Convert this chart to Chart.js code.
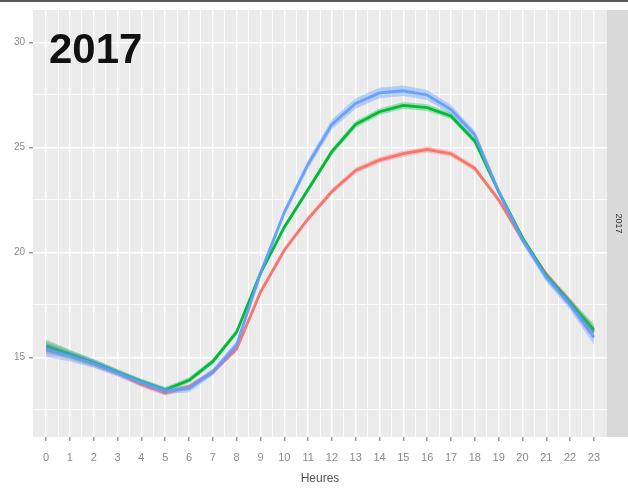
<!DOCTYPE html>
<html>
<head>
<meta charset="utf-8">
<script src="https://cdn.jsdelivr.net/npm/chart.js@4"></script>
<style>
  html, body { margin: 0; padding: 0; background: #fff; }
  #wrap { width: 628px; height: 489px; }
</style>
</head>
<body>
<div id="wrap"><canvas id="chart1" width="628" height="489"></canvas></div>
<script>
(() => {
  // hours of the day
  const hours = [0, 1, 2, 3, 4, 5, 6, 7, 8, 9, 10, 11, 12, 13, 14, 15, 16, 17, 18, 19, 20, 21, 22, 23];
  // mean values
  const blue = [15.35, 15.05, 14.7, 14.25, 13.8, 13.4, 13.5, 14.3, 15.6, 19.0, 21.9, 24.2, 26.1, 27.1, 27.6, 27.7, 27.5, 26.8, 25.6, 22.9, 20.6, 18.8, 17.5, 15.95];
  const green = [15.55, 15.15, 14.75, 14.3, 13.85, 13.45, 13.9, 14.8, 16.2, 19.0, 21.2, 23.0, 24.8, 26.1, 26.7, 27.0, 26.9, 26.5, 25.3, 22.9, 20.7, 18.9, 17.6, 16.3];
  const red = [15.45, 15.1, 14.7, 14.25, 13.7, 13.3, 13.6, 14.3, 15.4, 18.1, 20.1, 21.6, 22.9, 23.9, 24.4, 24.7, 24.9, 24.7, 24.0, 22.5, 20.6, 18.95, 17.65, 16.2];
  // half width of the ribbons
  const blueSe = [0.34, 0.25, 0.2, 0.17, 0.16, 0.16, 0.17, 0.17, 0.17, 0.17, 0.18, 0.2, 0.23, 0.25, 0.25, 0.25, 0.24, 0.22, 0.2, 0.18, 0.18, 0.2, 0.24, 0.34];
  const greenSe = [0.3, 0.21, 0.17, 0.14, 0.13, 0.13, 0.13, 0.13, 0.13, 0.13, 0.13, 0.14, 0.15, 0.16, 0.16, 0.16, 0.16, 0.15, 0.14, 0.13, 0.13, 0.15, 0.19, 0.28];
  const redSe = [0.3, 0.21, 0.17, 0.14, 0.13, 0.13, 0.13, 0.13, 0.13, 0.13, 0.13, 0.13, 0.13, 0.14, 0.14, 0.14, 0.14, 0.14, 0.13, 0.13, 0.13, 0.15, 0.19, 0.28];
  // tick labels
  const yTicks = [15, 20, 25, 30];
  const xTicks = hours;
  const panelLabel = "2017";
  const xTitle = "Heures";

  const pts = (vals, off) => hours.map((h, i) => ({ x: h, y: vals[i] + off[i] }));
  const neg = (arr) => arr.map((v) => -v);
  const zero = hours.map(() => 0);

  const series = [
    { vals: blue, se: blueSe, line: "rgba(97,156,255,0.9)", band: "rgba(97,156,255,0.40)" },
    { vals: green, se: greenSe, line: "#00BA38", band: "rgba(0,186,56,0.35)" },
    { vals: red, se: redSe, line: "#F8766D", band: "rgba(248,118,109,0.35)" },
  ];

  const datasets = [];
  series.forEach((s) => {
    datasets.push({
      data: pts(s.vals, zero),
      borderColor: s.line,
      borderWidth: 2.8,
      pointRadius: 0,
      tension: 0,
      fill: false,
    });
    datasets.push({
      data: pts(s.vals, s.se),
      borderWidth: 0,
      pointRadius: 0,
      tension: 0,
      backgroundColor: s.band,
      fill: "+1",
    });
    datasets.push({
      data: pts(s.vals, neg(s.se)),
      borderWidth: 0,
      pointRadius: 0,
      tension: 0,
      fill: false,
    });
  });

  const panel = {
    id: "panel",
    beforeDraw(chart) {
      const { ctx, chartArea: a } = chart;
      ctx.save();
      ctx.fillStyle = "#ffffff";
      ctx.fillRect(0, 0, chart.width, chart.height);
      ctx.fillStyle = "#5a5a5a";
      ctx.fillRect(0, 0, chart.width, 2);
      ctx.fillStyle = "#ebebeb";
      ctx.fillRect(a.left, a.top, a.right - a.left, a.bottom - a.top);
      ctx.fillStyle = "#d9d9d9";
      ctx.fillRect(a.right, a.top, chart.width - a.right, a.bottom - a.top);
      ctx.translate(a.right + 11, (a.top + a.bottom) / 2);
      ctx.rotate(Math.PI / 2);
      ctx.fillStyle = "#333";
      ctx.font = "9px 'Liberation Sans'";
      ctx.textAlign = "center";
      ctx.textBaseline = "middle";
      ctx.fillText(panelLabel, 0, 0);
      ctx.restore();
    },
    afterDraw(chart) {
      const { ctx, chartArea: a } = chart;
      ctx.save();
      ctx.fillStyle = "#111";
      ctx.font = "bold 42px 'Liberation Sans'";
      ctx.textAlign = "left";
      ctx.textBaseline = "alphabetic";
      ctx.fillText(panelLabel, a.left + 16, 63);
      ctx.restore();
    },
  };

  const config = {
    type: "line",
    data: { datasets: datasets },
    options: {
      responsive: false,
      animation: false,
      layout: { padding: { top: 5, right: 21, left: 0, bottom: 0 } },
      plugins: { legend: { display: false }, tooltip: { enabled: false } },
      scales: {
        x: {
          type: "linear",
          min: -0.55,
          max: 23.55,
          afterBuildTicks: (scale) => {
            const t = [];
            for (let v = 0; v <= 23; v += 0.5) t.push({ value: v });
            scale.ticks = t;
          },
          afterFit: (scale) => { scale.height = 52; },
          ticks: {
            autoSkip: false,
            maxRotation: 0,
            padding: 10,
            color: "#8a8a8a",
            font: { family: "'Liberation Sans'", size: 11 },
            callback: (v) => (xTicks.includes(v) ? String(v) : ""),
          },
          grid: {
            color: "#ffffff",
            lineWidth: (c) => (c.tick && Number.isInteger(c.tick.value) ? 1.5 : 0.9),
            tickLength: 4,
            tickColor: (c) => (c.tick && Number.isInteger(c.tick.value) ? "#999" : "rgba(0,0,0,0)"),
          },
          border: { display: false },
          title: {
            display: true,
            text: xTitle,
            color: "#555",
            font: { family: "'Liberation Sans'", size: 12 },
            padding: { top: 0, bottom: 3 },
          },
        },
        y: {
          type: "linear",
          min: 11.2,
          max: 31.55,
          afterBuildTicks: (scale) => {
            const t = [];
            for (let v = 12.5; v <= 30; v += 2.5) t.push({ value: v });
            scale.ticks = t;
          },
          afterFit: (scale) => { scale.width = 33; },
          ticks: {
            padding: 4,
            color: "#8a8a8a",
            font: { family: "'Liberation Sans'", size: 10 },
            callback: (v) => (yTicks.includes(v) ? String(v) : ""),
          },
          grid: {
            color: "#ffffff",
            lineWidth: (c) => (c.tick && yTicks.includes(c.tick.value) ? 1.5 : 0.9),
            tickLength: 4,
            tickColor: (c) => (c.tick && yTicks.includes(c.tick.value) ? "#999" : "rgba(0,0,0,0)"),
          },
          border: { display: false },
        },
      },
    },
    plugins: [panel],
  };

  new Chart(document.getElementById("chart1"), config);
})();
</script>
</body>
</html>
